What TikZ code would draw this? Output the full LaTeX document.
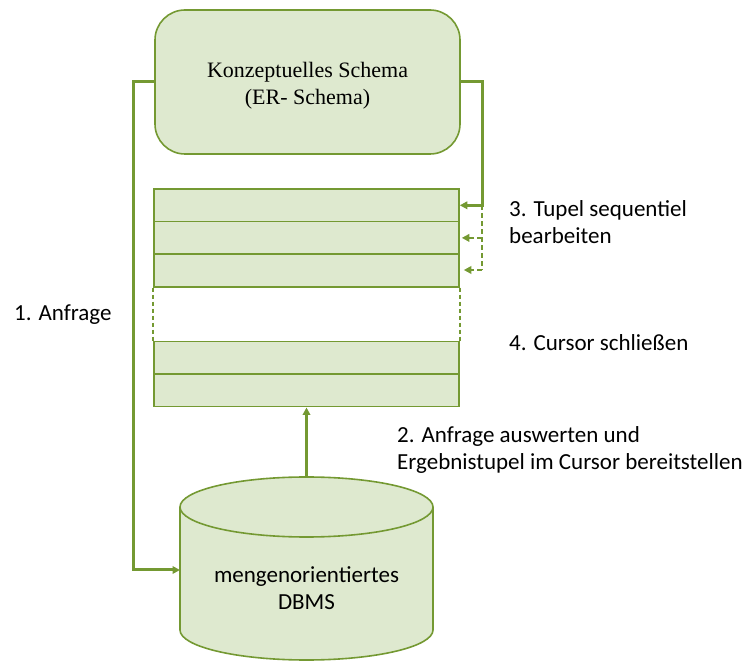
\documentclass[tikz,border=0pt]{standalone}
\usepackage{fontspec}
\setmainfont{Carlito}
\newfontfamily\serifface{Liberation Serif}
\usetikzlibrary{arrows.meta}
\definecolor{leaf}{RGB}{222,233,207}
\definecolor{olive}{RGB}{116,153,50}
\tikzset{
  box/.style={draw=olive, fill=leaf, line width=1.6pt},
  rowbox/.style={box, minimum width=305pt, minimum height=32.6pt, inner sep=0pt},
  link/.style={draw=olive, line width=3pt},
  dlink/.style={draw=olive, line width=2.6pt, dash pattern=on 5pt off 3pt},
  gapline/.style={draw=olive, line width=2pt, dash pattern=on 4.5pt off 2.5pt},
  tip/.style={-{Triangle[length=7.5pt,width=7.5pt]}},
  lbl/.style={font=\fontsize{23}{26.5}\selectfont, align=left, anchor=west, inner sep=0pt},
}
\begin{document}
\begin{tikzpicture}[x=1pt,y=1pt]
\useasboundingbox (0,0) rectangle (745,662);

% conceptual schema
\node[box, rounded corners=30pt, minimum width=305pt, minimum height=144pt,
      inner sep=0pt] (schema) at (307.5,580) {};
\node[font=\serifface\fontsize{22}{27}\selectfont, align=center] (schematext)
      at (307.5,576.5) {Konzeptuelles Schema\\(ER- Schema)};

% cursor rows
\node[rowbox] (r1) at (306.5,456.7) {};
\node[rowbox] (r2) at (306.5,424.1) {};
\node[rowbox] (r3) at (306.5,391.5) {};
\node[rowbox] (r4) at (306.5,304.2) {};
\node[rowbox] (r5) at (306.5,271.6) {};
% closed part of the cursor
\draw[gapline] (r3.south west) -- (r4.north west);
\draw[gapline] (r3.south east) -- (r4.north east);

% DBMS cylinder
\fill[leaf] (180,155) -- (180,32) arc[start angle=180, end angle=360, x radius=126.5, y radius=30]
  -- (433,155) -- cycle;
\draw[draw=olive, line width=1.6pt] (180,155) -- (180,32)
  arc[start angle=180, end angle=360, x radius=126.5, y radius=30] -- (433,155);
\draw[box] (306.5,155) ellipse[x radius=126.5, y radius=30];
\coordinate (dbtop) at (306.5,185);
\coordinate (dbleft) at (180,92);
\node[font=\fontsize{23}{27}\selectfont, align=center] (dbtext) at (306.5,74)
      {mengenorientiertes\\DBMS};

% connectors
\coordinate (lbend) at (133,580);
\coordinate (rbend) at (482,580);
\coordinate (rdown) at (482,456.7);
\coordinate (rend) at (482,392);
\draw[link, tip] (schema.west) -- (lbend) |- (dbleft);
\draw[link, tip] (schema.east) -- (rbend) -- (rdown) -- (r1.east);
\draw[dlink] (rdown) -- (rend);
\draw[dlink, tip, shorten >=2pt] (rdown |- r2.east) -- (r2.east);
\draw[dlink, tip, shorten >=4pt] (rend) -- (rend -| r3.east);
\draw[link, tip] (dbtop) -- (r5.south);

% step labels
\node[lbl] (l1) at (14,347) {1. Anfrage};
\node[lbl] (l3) at (509,440) {3. Tupel sequentiel\\bearbeiten};
\node[lbl] (l4) at (509,319) {4. Cursor schließen};
\node[lbl] (l2) at (397,212) {2. Anfrage auswerten und\\Ergebnistupel im Cursor bereitstellen};
\end{tikzpicture}
\end{document}
